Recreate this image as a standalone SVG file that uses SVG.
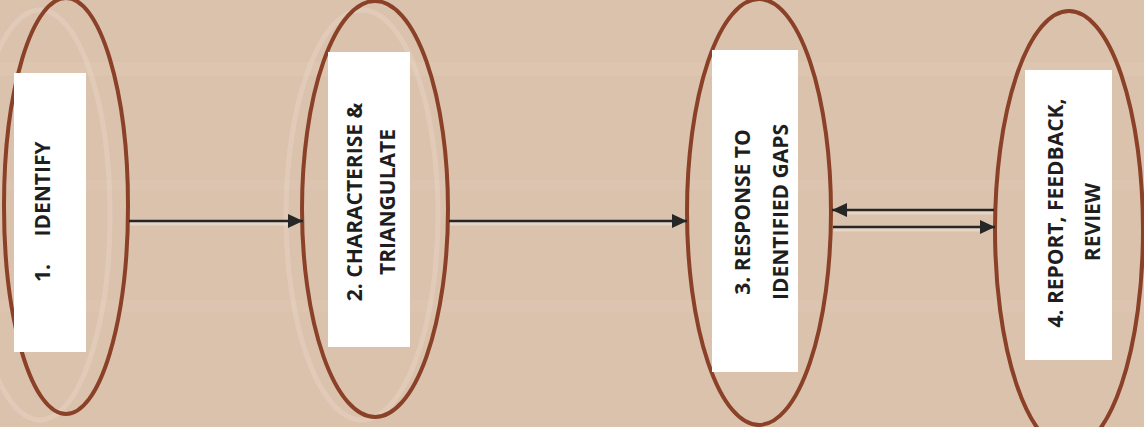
<svg xmlns="http://www.w3.org/2000/svg" width="1144" height="427" viewBox="0 0 1144 427">
  <style>
    .bg { fill: #dbc2ad; }
    .ghost { fill: none; stroke: #eee2d5; stroke-width: 5; opacity: 0.3; }
    .oval { fill: none; stroke: #8a4128; stroke-width: 4; }
    .box { fill: #ffffff; }
    .lbl { font-family: "Open Sans", "Noto Sans", sans-serif; font-weight: bold; font-size: 21px; fill: #1e1e1e; text-anchor: middle; }
    .halo { stroke: #f2e7dc; stroke-width: 5; opacity: 0.5; fill: none; }
    .edge { stroke: #262626; stroke-width: 2.5; fill: none; marker-end: url(#arrow); }
  </style>
  <defs>
    <marker id="arrow" markerUnits="userSpaceOnUse" markerWidth="16" markerHeight="16" refX="15" refY="7" orient="auto">
      <path d="M0,0 L15,7 L0,14 Z" fill="#262626"/>
    </marker>
  </defs>

  <rect class="bg" x="0" y="0" width="1144" height="427"/>
  <rect x="0" y="62" width="1144" height="14" fill="#e4cfbd" opacity="0.25"/>
  <rect x="0" y="180" width="1144" height="10" fill="#e4cfbd" opacity="0.2"/>
  <rect x="0" y="300" width="1144" height="12" fill="#e4cfbd" opacity="0.2"/>

  <g id="ghosts">
    <ellipse class="ghost" cx="40" cy="215" rx="70" ry="205"/>
    <ellipse class="ghost" cx="362" cy="215" rx="76" ry="205"/>
  </g>

  <g id="node1">
    <ellipse class="oval" cx="66" cy="206" rx="62" ry="208"/>
    <rect class="box" x="14" y="73" width="72" height="279"/>
    <text class="lbl" transform="rotate(-90)" x="-273" y="50">1.</text>
    <text class="lbl" transform="rotate(-90)" x="-189" y="50">IDENTIFY</text>
  </g>

  <g id="node2">
    <ellipse class="oval" cx="375" cy="209" rx="73" ry="208"/>
    <rect class="box" x="328" y="52" width="82" height="295"/>
    <text class="lbl" transform="rotate(-90)" x="-202" y="362">2. CHARACTERISE &amp;</text>
    <text class="lbl" transform="rotate(-90)" x="-202" y="395">TRIANGULATE</text>
  </g>

  <g id="node3">
    <ellipse class="oval" cx="759" cy="212" rx="72" ry="213"/>
    <rect class="box" x="712" y="50" width="86" height="322"/>
    <text class="lbl" transform="rotate(-90)" x="-212" y="750">3. RESPONSE TO</text>
    <text class="lbl" transform="rotate(-90)" x="-212" y="788">IDENTIFIED GAPS</text>
  </g>

  <g id="node4">
    <ellipse class="oval" cx="1069" cy="230" rx="74" ry="219"/>
    <rect class="box" x="1025" y="70" width="87" height="290"/>
    <text class="lbl" transform="rotate(-90)" x="-213" y="1063">4. REPORT, FEEDBACK,</text>
    <text class="lbl" transform="rotate(-90)" x="-222" y="1100">REVIEW</text>
  </g>

  <g id="connectors">
    <line class="halo" x1="130" y1="223" x2="288" y2="223"/>
    <line class="halo" x1="450" y1="223" x2="672" y2="223"/>
    <line class="halo" x1="848" y1="212" x2="993" y2="212"/>
    <line class="halo" x1="834" y1="229" x2="980" y2="229"/>
    <line class="edge" x1="129" y1="221" x2="303" y2="221"/>
    <line class="edge" x1="449" y1="221" x2="687" y2="221"/>
    <line class="edge" x1="994" y1="210" x2="832" y2="210"/>
    <line class="edge" x1="833" y1="227" x2="995" y2="227"/>
  </g>
</svg>
